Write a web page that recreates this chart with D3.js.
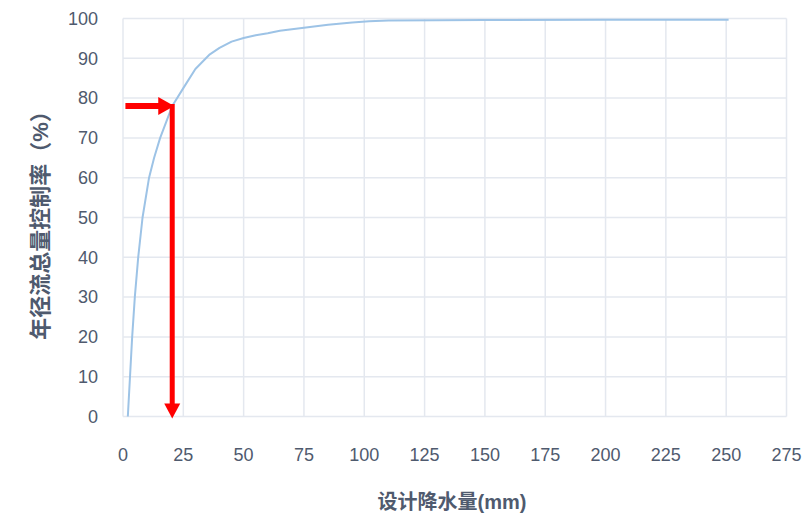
<!DOCTYPE html>
<html>
<head>
<meta charset="utf-8">
<script src="https://cdn.jsdelivr.net/npm/d3@7"></script>
<style>
  body { margin: 0; background: #fff; }
  text { font-family: "Liberation Sans", "Noto Sans CJK SC", sans-serif; }
</style>
</head>
<body>
<script>
// design rainfall (mm) vs annual runoff volume control rate (%)
var rainfall = [2, 2.9, 3.8, 4.9, 6.3, 8.1, 10.8, 12.9, 15.4, 20.4, 25, 30, 36, 40, 45, 50, 55, 60, 65, 75, 85, 95, 102, 110, 150, 200, 251];
var rate = [0, 10, 20, 30, 40, 50, 60, 65, 70, 78, 82.5, 87.3, 91, 92.6, 94.2, 95.1, 95.8, 96.3, 96.9, 97.7, 98.4, 99, 99.3, 99.5, 99.6, 99.7, 99.7];
var xTicks = [0, 25, 50, 75, 100, 125, 150, 175, 200, 225, 250, 275];
var yTicks = [0, 10, 20, 30, 40, 50, 60, 70, 80, 90, 100];
var arrowRain = 20.4, arrowRate = 78, arrowStart = 1;

var W = 808, H = 516;
var margin = {left: 123, right: 21.5, top: 18.5, bottom: 99.5};

var svg = d3.select("body").append("svg")
  .attr("width", W)
  .attr("height", H);

var x = d3.scaleLinear().domain([0, 275]).range([margin.left, W - margin.right]);
var y = d3.scaleLinear().domain([0, 100]).range([H - margin.bottom, margin.top]);

var grid = "#e4e8ef", txt = "#4f5a6e";

// grid
svg.append("g").selectAll("line").data(xTicks).enter().append("line")
  .attr("x1", function(d) { return x(d); }).attr("x2", function(d) { return x(d); })
  .attr("y1", y(0)).attr("y2", y(100))
  .attr("stroke", grid).attr("stroke-width", 1.5);
svg.append("g").selectAll("line").data(yTicks).enter().append("line")
  .attr("y1", function(d) { return y(d); }).attr("y2", function(d) { return y(d); })
  .attr("x1", x(0)).attr("x2", x(275))
  .attr("stroke", grid).attr("stroke-width", 1.5);

// tick labels
svg.append("g").selectAll("text").data(yTicks).enter().append("text")
  .attr("x", 98).attr("y", function(d) { return y(d); })
  .attr("dy", "0.35em").attr("text-anchor", "end")
  .attr("font-size", 18).attr("fill", txt)
  .text(function(d) { return d; });
svg.append("g").selectAll("text").data(xTicks).enter().append("text")
  .attr("x", function(d) { return x(d); }).attr("y", 455)
  .attr("dy", "0.35em").attr("text-anchor", "middle")
  .attr("font-size", 18).attr("fill", txt)
  .text(function(d) { return d; });

// axis titles
svg.append("text")
  .attr("x", 452).attr("y", 509)
  .attr("text-anchor", "middle").attr("font-size", 20).attr("font-weight", "bold").attr("fill", txt)
  .text("设计降水量(mm)");
svg.append("text")
  .attr("transform", "translate(48,220) rotate(-90)")
  .attr("text-anchor", "middle").attr("font-size", 22).attr("font-weight", "bold").attr("fill", txt)
  .text("年径流总量控制率（%）");

// curve
var line = d3.line()
  .x(function(d, i) { return x(rainfall[i]); })
  .y(function(d) { return y(d); });
svg.append("path")
  .datum(rate)
  .attr("d", line)
  .attr("fill", "none")
  .attr("stroke", "#9dc3e6")
  .attr("stroke-width", 2)
  .attr("stroke-linejoin", "round");

// red arrows
var red = "#ff0000";
var ax = x(arrowRain), ay = y(arrowRate);
svg.append("line")
  .attr("x1", x(arrowStart)).attr("x2", ax - 12)
  .attr("y1", ay).attr("y2", ay)
  .attr("stroke", red).attr("stroke-width", 6);
svg.append("path")
  .attr("d", "M" + (ax + 2) + "," + ay + "L" + (ax - 14) + "," + (ay - 9) + "L" + (ax - 14) + "," + (ay + 9) + "Z")
  .attr("fill", red);
svg.append("line")
  .attr("x1", ax).attr("x2", ax)
  .attr("y1", ay - 2).attr("y2", y(0) - 10)
  .attr("stroke", red).attr("stroke-width", 5);
svg.append("path")
  .attr("d", "M" + ax + "," + (y(0) + 2) + "L" + (ax - 8) + "," + (y(0) - 13) + "L" + (ax + 8) + "," + (y(0) - 13) + "Z")
  .attr("fill", red);
</script>
</body>
</html>
